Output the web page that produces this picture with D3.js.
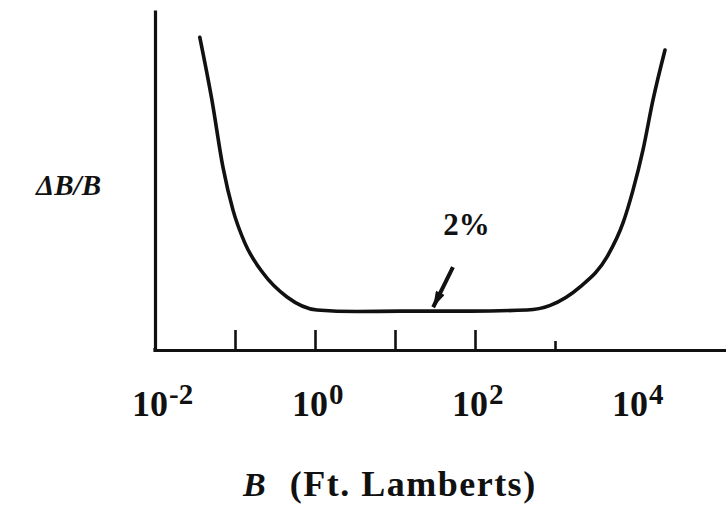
<!DOCTYPE html>
<html>
<head>
<meta charset="utf-8">
<script src="https://cdn.jsdelivr.net/npm/d3@7"></script>
<style>
  html, body { margin: 0; padding: 0; background: #fff; }
  text { font-family: "Liberation Serif", "DejaVu Serif", serif; font-weight: bold; fill: #111; }
</style>
</head>
<body>
<svg id="chart" width="726" height="509"></svg>
<script>
// Luminance B (ft-lamberts) and Weber fraction ΔB/B (%)
const luminance = [0.0363, 0.0513, 0.0708, 0.0944, 0.133, 0.224, 0.447, 1.06, 3.35, 11.5, 87, 447, 871, 2042, 4467, 7079, 9441, 12589, 16788, 23714];
const weberFraction = [16.1, 12.9, 9.4, 7.2, 5.5, 3.96, 2.73, 2.06, 1.98, 2.0, 2.0, 2.06, 2.3, 3.24, 4.79, 6.54, 8.23, 10.3, 12.87, 15.44];

const minorTicks = [0.1, 1, 10, 100, 1000];
const labelTicks = [0.01, 1, 100, 10000];
const labelExponents = ["-2", "0", "2", "4"];

const annotationText = "2%";
const annotationAt = [40, 5.9];      // [B, ΔB/B]
const arrowFrom = [53, 4.27];
const arrowTo = [30, 2.2];

const yLabel = "ΔB/B";
const xLabel = "(Ft. Lamberts)";
const xLabelSymbol = "B";

const svg = d3.select("#chart");
svg.append("rect").attr("width", 726).attr("height", 509).attr("fill", "#fff");

const x = d3.scaleLog().domain([0.01, Math.pow(10, 5.1375)]).range([155, 726]);
const y = d3.scaleLinear().domain([0, 17.5]).range([350, 10]);

const ink = "#111";

// x axis
const xAxis = svg.append("g")
  .attr("transform", "translate(0,350)")
  .call(d3.axisBottom(x).tickValues(minorTicks).tickSize(-20).tickSizeOuter(0).tickFormat(""));
xAxis.select(".domain").attr("stroke", ink).attr("stroke-width", 3.2);
xAxis.selectAll(".tick line").attr("stroke", ink).attr("stroke-width", 2.6);
xAxis.selectAll(".tick").filter(d => d === 1000).select("line").attr("y2", -9);

// y axis
const yAxis = svg.append("g")
  .attr("transform", "translate(155,0)")
  .call(d3.axisLeft(y).tickValues([]).tickSizeOuter(0));
yAxis.select(".domain").attr("stroke", ink).attr("stroke-width", 3.2);
svg.append("line").attr("x1", 155).attr("x2", 155).attr("y1", 348).attr("y2", 352)
  .attr("stroke", ink).attr("stroke-width", 3.2);

// tick labels 10^n
labelTicks.forEach((v, i) => {
  const t = svg.append("text")
    .attr("x", x(v) - 23)
    .attr("y", 416)
    .attr("font-size", 36);
  t.append("tspan").text("10");
  t.append("tspan").attr("dy", -12).attr("dx", 1).attr("font-size", 29).text(labelExponents[i]);
});

// curve
const data = luminance.map((b, i) => [b, weberFraction[i]]);
const line = d3.line().x(d => x(d[0])).y(d => y(d[1])).curve(d3.curveMonotoneX);
svg.append("path").datum(data)
  .attr("d", line)
  .attr("fill", "none")
  .attr("stroke", ink)
  .attr("stroke-width", 3.6)
  .attr("stroke-linecap", "round");

// arrow annotation
const defs = svg.append("defs");
defs.append("marker")
  .attr("id", "arr")
  .attr("viewBox", "0 0 10 6")
  .attr("refX", 10).attr("refY", 3)
  .attr("markerWidth", 5).attr("markerHeight", 2.4)
  .attr("orient", "auto")
  .append("path").attr("d", "M0,0 L10,3 L0,6 Z").attr("fill", ink);
svg.append("line")
  .attr("x1", x(arrowFrom[0])).attr("y1", y(arrowFrom[1]))
  .attr("x2", x(arrowTo[0])).attr("y2", y(arrowTo[1]))
  .attr("stroke", ink).attr("stroke-width", 4)
  .attr("marker-end", "url(#arr)");

svg.append("text")
  .attr("x", x(annotationAt[0])).attr("y", y(annotationAt[1]))
  .attr("font-size", 31)
  .text(annotationText);

// axis titles
svg.append("text")
  .attr("x", 101).attr("y", 195)
  .attr("text-anchor", "end")
  .attr("font-size", 29)
  .attr("font-style", "italic")
  .text(yLabel);

const xt = svg.append("text")
  .attr("x", 243).attr("y", 496)
  .attr("font-size", 34);
xt.append("tspan").attr("font-style", "italic").text(xLabelSymbol);
xt.append("tspan").attr("dx", 24).attr("font-size", 36).attr("letter-spacing", 1.5).text(xLabel);
</script>
</body>
</html>
